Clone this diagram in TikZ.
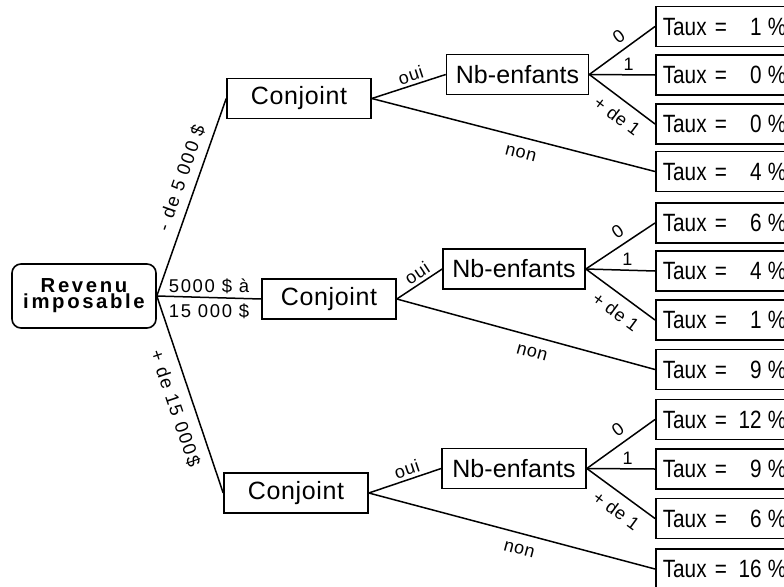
\documentclass[tikz,border=0pt]{standalone}
\usepackage{fontspec}
\setmainfont{Liberation Sans}
\newfontfamily\boxfont[LetterSpace=2.5]{Liberation Sans}
\newfontfamily\nbfont[LetterSpace=0.5]{Liberation Sans}
\newfontfamily\tauxfont[FakeStretch=0.83]{Liberation Sans}
\newfontfamily\revfont[LetterSpace=13]{Liberation Sans}
\newfontfamily\labfont[LetterSpace=4]{Liberation Sans}
\newfontfamily\sidefont[LetterSpace=9]{Liberation Sans}
\newcommand{\tx}[1]{\makebox[76pt][l]{Taux =}\makebox[23pt][r]{#1}\hspace{6pt}\%}
\begin{document}
\begin{tikzpicture}[x=1pt,y=-1pt,line width=1.5pt,
  box/.style={draw,line width=1.6pt,inner sep=0pt},
  conj/.style={box,minimum width=144pt,minimum height=40pt,font=\boxfont\fontsize{25}{25}\selectfont},
  nbbox/.style={box,minimum width=142pt,minimum height=40pt,font=\nbfont\fontsize{25}{25}\selectfont},
  taux/.style={box,anchor=west,minimum height=40pt,minimum width=160pt,inner xsep=7pt,
     text width=146pt,align=left,font=\tauxfont\fontsize{25}{25}\selectfont},
  rootbox/.style={box,rounded corners=9pt,minimum width=144pt,minimum height=64pt,align=center,
     font=\revfont\bfseries\fontsize{20.3}{16}\selectfont},
  lab/.style={font=\labfont\fontsize{18}{18}\selectfont,inner sep=0pt},
  side/.style={font=\sidefont\fontsize{18.5}{18.5}\selectfont,inner sep=0pt}]
\useasboundingbox (0,0) rectangle (784,586);
\clip (0,0) rectangle (784,586);

% root
\node[rootbox] (rev) at (84,296) {Revenu\\imposable};

% conjoint
\node[conj] (c1) at (299,98.5) {Conjoint};
\node[conj,minimum width=134pt] (c2) at (329,299) {Conjoint};
\node[conj] (c3) at (296,493) {Conjoint};

% nb-enfants
\node[nbbox] (n1) at (517.5,74.5) {Nb-enfants};
\node[nbbox] (n2) at (514,269) {Nb-enfants};
\node[nbbox,minimum width=144pt] (n3) at (514,468.5) {Nb-enfants};

% taux boxes
\node[taux] (t11) at (655,26.5) {\tx{1}};
\node[taux] (t12) at (655,75) {\tx{0}};
\node[taux] (t13) at (655,124) {\tx{0}};
\node[taux] (t14) at (655,171.5) {\tx{4}};
\node[taux] (t21) at (655,223) {\tx{6}};
\node[taux] (t22) at (655,271) {\tx{4}};
\node[taux] (t23) at (655,320) {\tx{1}};
\node[taux] (t24) at (655,369.5) {\tx{9}};
\node[taux] (t31) at (655,419.5) {\tx{12}};
\node[taux] (t32) at (655,469) {\tx{9}};
\node[taux] (t33) at (655,518.5) {\tx{6}};
\node[taux] (t34) at (655,569) {\tx{16}};

% root edges
\draw (rev.east) -- node[pos=0.57,sloped,above=8pt,side] {- de 5 000 \$} (c1.west);
\draw (rev.east) -- node[midway,above=2.5pt,side] {5000 \$ à} node[midway,below=5.5pt,side] {15 000 \$} (c2.west);
\draw (rev.east) -- node[pos=0.54,sloped,below=10pt,side] {+ de 15 000\$} (c3.west);

% conjoint edges
\foreach \c/\n/\t in {c1/n1/t14, c2/n2/t24, c3/n3/t34}{
  \draw (\c.east) -- node[pos=0.57,sloped,above=3pt,lab] {oui} (\n.west);
  \draw (\c.east) -- node[pos=0.54,sloped,below=10.5pt,lab] {non} (\t.west);
}

% nb-enfants edges
\foreach \n/\a/\b/\d in {n1/t11/t12/t13, n2/t21/t22/t23, n3/t31/t32/t33}{
  \draw (\n.east) -- node[pos=0.57,sloped,above=6.5pt,lab] {0} (\a.west);
  \draw (\n.east) -- node[pos=0.6,above=4pt,lab] {1} (\b.west);
  \draw (\n.east) -- node[pos=0.575,sloped,below=9pt,lab] {+ de 1} (\d.west);
}
\end{tikzpicture}
\end{document}
